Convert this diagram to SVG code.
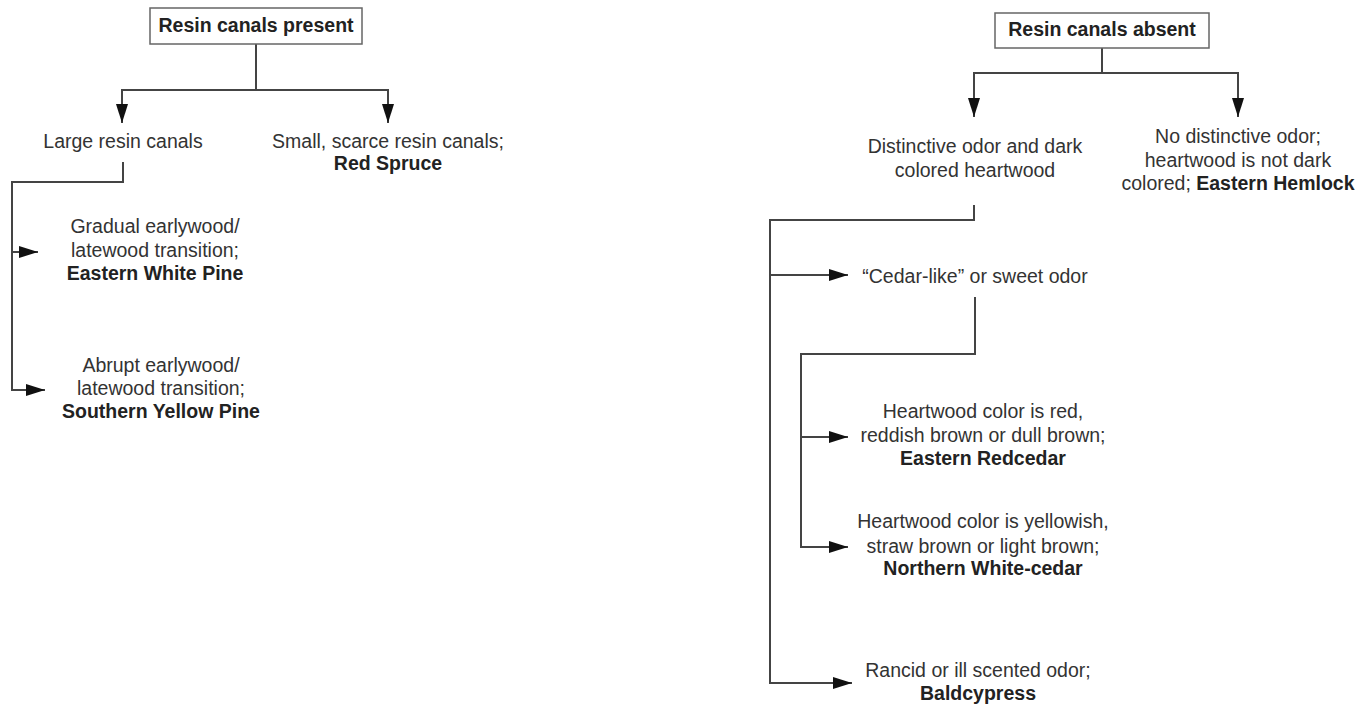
<svg xmlns="http://www.w3.org/2000/svg" width="1371" height="707" viewBox="0 0 1371 707">
<defs>
<style>
text{font-family:"Liberation Sans",Arial,sans-serif;font-size:19.5px;fill:#333;text-anchor:middle}
.b{font-weight:bold;fill:#222}
.box{fill:#fff;stroke:#666;stroke-width:1.5}
.c path{fill:none;stroke:#444;stroke-width:2;marker-end:url(#ah)}
.c path.n{marker-end:none}
</style>
<marker id="ah" markerUnits="userSpaceOnUse" markerWidth="19" markerHeight="12" viewBox="0 0 19 12" refX="19" refY="6" orient="auto">
<path d="M0,0 L19,6 L0,12 z" fill="#111"/>
</marker>
</defs>
<rect width="1371" height="707" fill="#fff"/>
<g id="connectors" class="c">
<path class="n" d="M256,44 V90"/>
<path d="M256,90 H122 V123"/>
<path d="M256,90 H388 V123"/>
<path d="M123,162 V182 H12 V252 H38"/>
<path d="M12,252 V390 H45"/>
<path class="n" d="M1102,48 V73"/>
<path d="M1102,73 H974 V117"/>
<path d="M1102,73 H1238 V117"/>
<path d="M974,205 V220 H770 V275 H848"/>
<path d="M770,275 V683 H852"/>
<path d="M975,297 V354 H801 V437 H848"/>
<path d="M801,437 V547 H848"/>
</g>
<g id="present">
<rect class="box" x="150" y="8" width="212" height="36"/>
<text class="b" x="256" y="32">Resin canals present</text>
</g>
<g id="large">
<text x="123" y="148">Large resin canals</text>
</g>
<g id="small">
<text x="388" y="148">Small, scarce resin canals;</text>
<text class="b" x="388" y="170">Red Spruce</text>
</g>
<g id="gradual">
<text x="155" y="233">Gradual earlywood/</text>
<text x="155" y="257">latewood transition;</text>
<text class="b" x="155" y="280">Eastern White Pine</text>
</g>
<g id="abrupt">
<text x="161" y="372">Abrupt earlywood/</text>
<text x="161" y="395">latewood transition;</text>
<text class="b" x="161" y="418">Southern Yellow Pine</text>
</g>
<g id="absent">
<rect class="box" x="995" y="13" width="214" height="35"/>
<text class="b" x="1102" y="36">Resin canals absent</text>
</g>
<g id="distinctive">
<text x="975" y="153">Distinctive odor and dark</text>
<text x="975" y="177">colored heartwood</text>
</g>
<g id="nodistinctive">
<text x="1238" y="143">No distinctive odor;</text>
<text x="1238" y="167">heartwood is not dark</text>
<text x="1238" y="190">colored; <tspan class="b">Eastern Hemlock</tspan></text>
</g>
<g id="cedarlike">
<text x="975" y="283">“Cedar-like” or sweet odor</text>
</g>
<g id="redcedar">
<text x="983" y="418">Heartwood color is red,</text>
<text x="983" y="442">reddish brown or dull brown;</text>
<text class="b" x="983" y="465">Eastern Redcedar</text>
</g>
<g id="whitecedar">
<text x="983" y="528">Heartwood color is yellowish,</text>
<text x="983" y="553">straw brown or light brown;</text>
<text class="b" x="983" y="575">Northern White-cedar</text>
</g>
<g id="baldcypress">
<text x="978" y="677">Rancid or ill scented odor;</text>
<text class="b" x="978" y="700">Baldcypress</text>
</g>
</svg>
